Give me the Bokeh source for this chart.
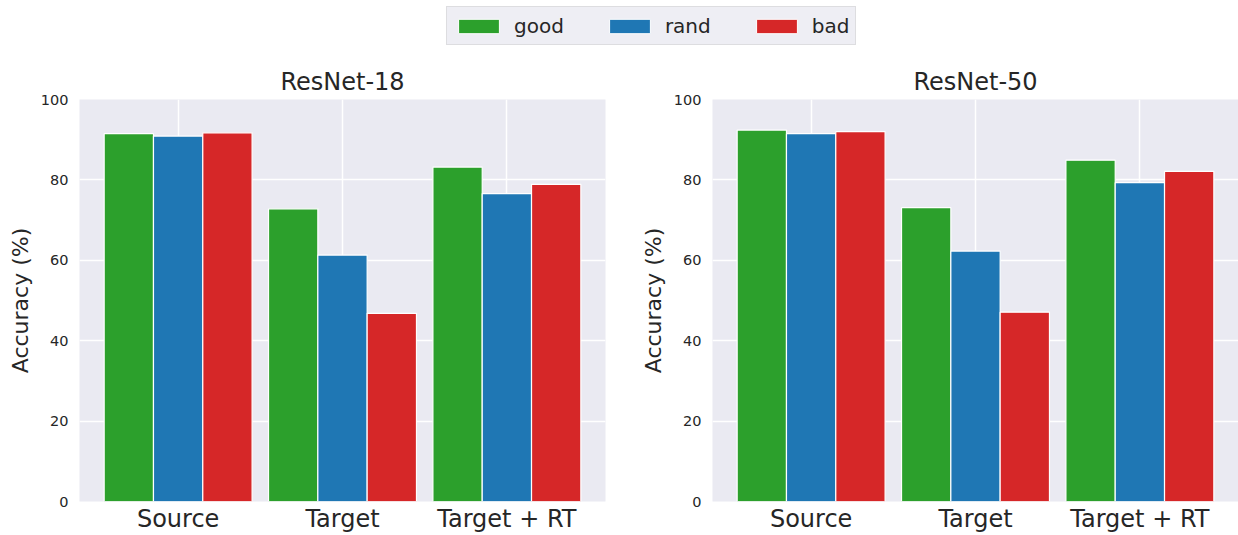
from bokeh.plotting import figure
from bokeh.models import Range1d, FixedTicker, Legend, LegendItem, ColumnDataSource
from bokeh.layouts import column, row
from bokeh.embed import file_html
from bokeh.resources import INLINE

# ---- data ----
categories = ["Source", "Target", "Target + RT"]
series_names = ["good", "rand", "bad"]
resnet18_good = [91.5, 72.8, 83.2]
resnet18_rand = [90.9, 61.3, 76.6]
resnet18_bad = [91.7, 46.8, 78.9]
resnet50_good = [92.4, 73.1, 84.9]
resnet50_rand = [91.5, 62.3, 79.3]
resnet50_bad = [92.0, 47.1, 82.1]
y_ticks = [0, 20, 40, 60, 80, 100]
titles = ["ResNet-18", "ResNet-50"]
y_label = "Accuracy (%)"

colors = ["#2ca02c", "#1f77b4", "#d62728"]
FONT = "DejaVu Sans"
TXT = "#262626"
BAR_W = 0.3


def make_panel(title, series, width, border_left, border_right):
    p = figure(width=width, height=485, output_backend="svg", toolbar_location=None,
               x_range=Range1d(-0.6, len(categories) - 1 + 0.6), y_range=Range1d(0, 100),
               min_border_left=border_left, min_border_right=border_right,
               min_border_top=49, min_border_bottom=34)
    p.background_fill_color = "#eaeaf2"
    p.border_fill_color = "white"
    p.outline_line_color = None

    p.title.text = title
    p.title.align = "center"
    p.title.text_font = FONT
    p.title.text_font_size = "24px"
    p.title.text_font_style = "normal"
    p.title.text_color = TXT
    p.title.standoff = 7

    idx = list(range(len(categories)))
    for k, vals in enumerate(series):
        off = (k - (len(series) - 1) / 2) * BAR_W
        src = ColumnDataSource(dict(x=[i + off for i in idx], top=vals))
        p.vbar(x="x", top="top", width=BAR_W, bottom=0, source=src,
               fill_color=colors[k], line_color="white", line_width=1.2)

    p.xaxis.ticker = FixedTicker(ticks=idx)
    p.xaxis.major_label_overrides = {i: c for i, c in zip(idx, categories)}
    p.yaxis.ticker = FixedTicker(ticks=y_ticks)
    for ax in (p.xaxis, p.yaxis):
        ax.axis_line_color = None
        ax.major_tick_line_color = None
        ax.minor_tick_line_color = None
        ax.major_tick_out = 0
        ax.major_tick_in = 0
        ax.major_label_text_font = FONT
        ax.major_label_text_color = TXT
    p.xaxis.major_label_text_font_size = "24px"
    p.xaxis.major_label_standoff = 3
    p.yaxis.major_label_text_font_size = "14.5px"
    p.yaxis.major_label_standoff = 11
    p.yaxis.axis_label = y_label
    p.yaxis.axis_label_text_font = FONT
    p.yaxis.axis_label_text_font_size = "22px"
    p.yaxis.axis_label_text_font_style = "normal"
    p.yaxis.axis_label_text_color = TXT
    p.yaxis.axis_label_standoff = 5

    p.grid.grid_line_color = "white"
    p.grid.grid_line_width = 1.5
    p.xgrid.ticker = FixedTicker(ticks=idx)
    p.ygrid.ticker = FixedTicker(ticks=y_ticks)
    return p


p1 = make_panel(titles[0], [resnet18_good, resnet18_rand, resnet18_bad], 636, 79, 31)
p2 = make_panel(titles[1], [resnet50_good, resnet50_rand, resnet50_bad], 602, 76, 0)

# ---- legend strip ----
lg = figure(width=1238, height=50, output_backend="svg", toolbar_location=None,
            x_range=Range1d(0, 1), y_range=Range1d(0, 1), x_axis_type=None, y_axis_type=None,
            min_border=0)
lg.outline_line_color = None
lg.grid.visible = False
items = []
for k, name in enumerate(series_names):
    # zero-height placeholder bar: only its legend swatch is seen
    r = lg.vbar(x=[-1], top=[0], bottom=[0], width=0.01, fill_color=colors[k],
                line_color="white", line_width=1)
    items.append(LegendItem(label=name, renderers=[r]))
legend = Legend(items=items, orientation="horizontal", location=(446, 5),
                label_text_font=FONT, label_text_font_size="20px", label_text_color=TXT,
                glyph_width=51, glyph_height=18, label_height=25, label_standoff=10,
                spacing=40, padding=6, margin=0,
                border_line_color="#cccccc", border_line_width=1,
                background_fill_color="#eeeef4", background_fill_alpha=1.0)
lg.add_layout(legend, "center")

layout = column(lg, row(p1, p2, spacing=0), spacing=0)
open("out.html", "w").write(file_html(layout, INLINE))
